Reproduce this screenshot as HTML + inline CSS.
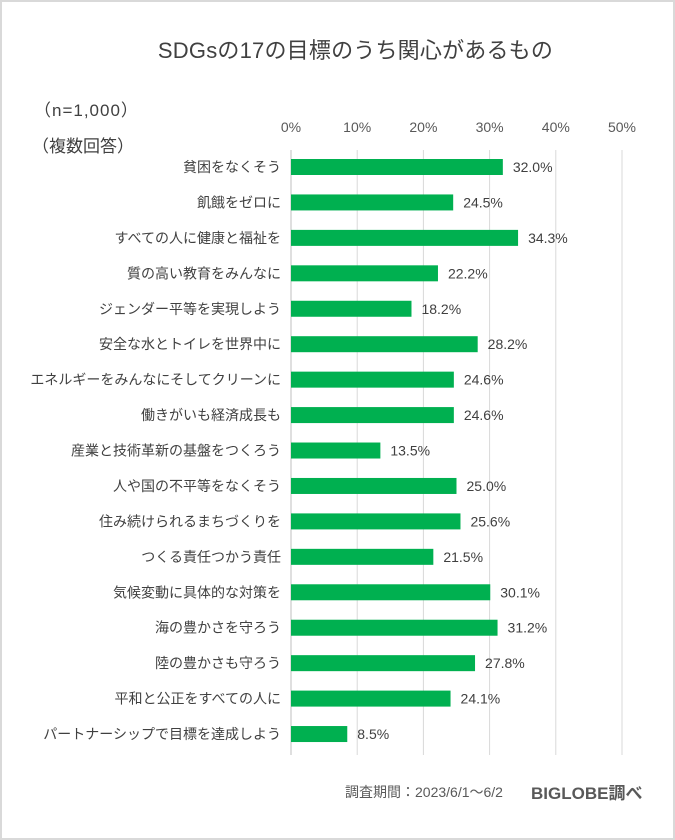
<!DOCTYPE html>
<html><head><meta charset="utf-8"><style>
html,body{margin:0;padding:0;background:#fff}
#wrap{position:relative;width:671px;height:836px;border:2px solid #d9d9d9;background:#fff;font-family:"Liberation Sans","Noto Sans CJK JP",sans-serif;color:#404040;overflow:hidden}
.t{position:absolute;white-space:nowrap}
</style></head><body>
<div id="wrap">
<div class="t" style="left:18px;width:671px;text-align:center;top:31px;font-size:22px;letter-spacing:0.2px;color:#404040">SDGsの17の目標のうち関心があるもの</div>
<div class="t" style="left:32px;top:94px;font-size:17px;letter-spacing:1px">（n=1,000）</div>
<div class="t" style="left:30px;top:130px;font-size:17px">（複数回答）</div>
<svg id="chart" width="671" height="836" style="position:absolute;left:0;top:0"></svg>
<div class="t" style="left:343px;top:780px;font-size:14px;color:#595959">調査期間：2023/6/1～6/2</div>
<div class="t" style="left:529px;top:777px;font-size:17px;font-weight:bold;color:#595959">BIGLOBE調べ</div>
</div>
<script>
const categories=["貧困をなくそう","飢餓をゼロに","すべての人に健康と福祉を","質の高い教育をみんなに","ジェンダー平等を実現しよう","安全な水とトイレを世界中に","エネルギーをみんなにそしてクリーンに","働きがいも経済成長も","産業と技術革新の基盤をつくろう","人や国の不平等をなくそう","住み続けられるまちづくりを","つくる責任つかう責任","気候変動に具体的な対策を","海の豊かさを守ろう","陸の豊かさも守ろう","平和と公正をすべての人に","パートナーシップで目標を達成しよう"];
const values=[32.0,24.5,34.3,22.2,18.2,28.2,24.6,24.6,13.5,25.0,25.6,21.5,30.1,31.2,27.8,24.1,8.5];
const ticks=[0,10,20,30,40,50];
const NS="http://www.w3.org/2000/svg";
const svg=document.getElementById('chart');
const x0=289,pxPer=6.62;
const xs=v=>x0+v*pxPer;
const y0=165,step=35.44;
const ys=i=>y0+i*step;
const FF='Liberation Sans, Noto Sans CJK JP, sans-serif';
function mk(tag,attrs){const e=document.createElementNS(NS,tag);for(const k in attrs)e.setAttribute(k,attrs[k]);svg.appendChild(e);return e;}
ticks.forEach(t=>{
 const l=mk('line',{x1:xs(t),x2:xs(t),y1:148,y2:753,stroke:t===0?'#bfbfbf':'#d9d9d9','stroke-width':1});
 
 
 const tx=mk('text',{x:xs(t),y:130,'text-anchor':'middle','font-size':14,fill:'#595959','font-family':FF});
 tx.textContent=t+'%';
 
 
});
categories.forEach((c,i)=>{
 const y=ys(i);
 const r=mk('rect',{x:xs(0),y:y-8,width:xs(values[i])-xs(0),height:16,fill:'#00b050'});
 
 
 const lab=mk('text',{x:279,y:y+5,'text-anchor':'end','font-size':14,fill:'#404040','font-family':FF});
 lab.textContent=c;
 
 
 const v=mk('text',{x:xs(values[i])+10,y:y+5,'font-size':14,fill:'#404040','font-family':FF});
 v.textContent=values[i].toFixed(1)+'%';
 
 
});
</script>
</body></html>
